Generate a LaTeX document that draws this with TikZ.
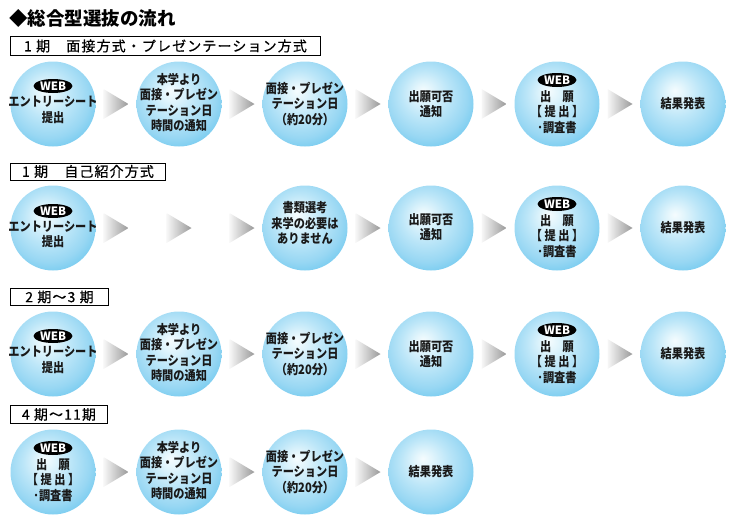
\documentclass[tikz,border=0pt]{standalone}
\usepackage{fontspec}
\newfontfamily\jpn{Noto Sans CJK JP}
\newfontfamily\jpl{Noto Sans CJK JP}[LetterSpace=8, FakeBold=0.6]
\newfontfamily\jpc{Noto Sans CJK JP}[FakeStretch=0.86]
\usetikzlibrary{shapes.geometric}
\definecolor{bA}{HTML}{F5FCFE}
\definecolor{bB}{HTML}{E2F5FC}
\definecolor{bC}{HTML}{BCE6F8}
\definecolor{bD}{HTML}{98D7F3}
\definecolor{bE}{HTML}{68C6EE}
\pgfdeclareradialshading{bubble}{\pgfpoint{-5bp}{8bp}}{color(0bp)=(bA); color(5bp)=(bB); color(14bp)=(bC); color(24bp)=(bD); color(33bp)=(bE); color(50bp)=(bE)}
\tikzset{
  bub/.style={circle, minimum size=85pt, inner sep=0pt, shade, shading=bubble},
  txt/.style={font=\jpc\bfseries\fontsize{13}{15.5}\selectfont, align=center, inner sep=0pt, text=black!90},
  web/.style={ellipse, fill=black, minimum width=39pt, minimum height=14pt, inner sep=0pt, text=white, font=\jpn\bfseries\fontsize{11.5}{11.5}\selectfont},
  lab/.style={draw=black, line width=0.9pt, fill=white, anchor=north west, inner sep=0pt, font=\jpl\fontsize{14}{14}\selectfont},
  chev/.pic={\shade[left color=black!3, right color=black!40] (-12.5,-15) -- (12.5,0) -- (-12.5,15) -- cycle;}
}
\begin{document}
\begin{tikzpicture}[x=1pt, y=-1pt]
\useasboundingbox (0,0) rectangle (741,525);
% title
\node[anchor=west, inner sep=0pt, font=\jpn\bfseries\fontsize{18.5}{18.5}\selectfont] (title) at (9,18) {◆総合型選抜の流れ};

% ---------- Row 1 ----------
\node[lab, minimum width=310pt, minimum height=19pt] (l1) at (10,36) {1 期　面接方式・プレゼンテーション方式};
\node[bub] (a1) at (53,104) {};
\node[web] (a1w) at (53,86) {WEB};
\node[txt] (a1t) at (53,110) {エントリーシート\\提出};
\pic (a1x) at (116,104) {chev};
\node[bub] (a2) at (179,104) {};
\node[txt] (a2t) at (179,102.5) {本学より\\面接・プレゼン\\テーション日\\時間の通知};
\pic (a2x) at (242,104) {chev};
\node[bub] (a3) at (305,104) {};
\node[txt] (a3t) at (305,103.5) {面接・プレゼン\\テーション日\\（約20分）};
\pic (a3x) at (368,104) {chev};
\node[bub] (a4) at (431,104) {};
\node[txt] (a4t) at (431,104) {出願可否\\通知};
\pic (a4x) at (494,104) {chev};
\node[bub] (a5) at (557,104) {};
\node[web] (a5w) at (557,80) {WEB};
\node[txt] (a5t) at (557,112) {出　願\\【 提 出 】\\･調査書};
\pic (a5x) at (620,104) {chev};
\node[bub] (a6) at (683,104) {};
\node[txt] (a6t) at (683,104) {結果発表};

% ---------- Row 2 ----------
\node[lab, minimum width=155pt, minimum height=17pt] (l2) at (10,162.5) {1 期　自己紹介方式};
\node[bub] (b1) at (53,228) {};
\node[web] (b1w) at (53,211) {WEB};
\node[txt] (b1t) at (53,234.5) {エントリーシート\\提出};
\pic (b1x) at (116,228) {chev};
\pic (b2x) at (179,228) {chev};
\pic (b3x) at (242,228) {chev};
\node[bub] (b3) at (305,228) {};
\node[txt] (b3t) at (305,223) {書類選考\\来学の必要は\\ありません};
\pic (b4x) at (368,228) {chev};
\node[bub] (b4) at (431,228) {};
\node[txt] (b4t) at (431,227) {出願可否\\通知};
\pic (b5x) at (494,228) {chev};
\node[bub] (b5) at (557,228) {};
\node[web] (b5w) at (557,204) {WEB};
\node[txt] (b5t) at (557,236) {出　願\\【 提 出 】\\･調査書};
\pic (b6x) at (620,228) {chev};
\node[bub] (b6) at (683,228) {};
\node[txt] (b6t) at (683,228) {結果発表};

% ---------- Row 3 ----------
\node[lab, minimum width=98pt, minimum height=17pt] (l3) at (10,288) {2 期～3 期};
\node[bub] (c1) at (53,354) {};
\node[web] (c1w) at (53,336) {WEB};
\node[txt] (c1t) at (53,360) {エントリーシート\\提出};
\pic (c1x) at (116,354) {chev};
\node[bub] (c2) at (179,354) {};
\node[txt] (c2t) at (179,352.5) {本学より\\面接・プレゼン\\テーション日\\時間の通知};
\pic (c2x) at (242,354) {chev};
\node[bub] (c3) at (305,354) {};
\node[txt] (c3t) at (305,353.5) {面接・プレゼン\\テーション日\\（約20分）};
\pic (c3x) at (368,354) {chev};
\node[bub] (c4) at (431,354) {};
\node[txt] (c4t) at (431,354) {出願可否\\通知};
\pic (c4x) at (494,354) {chev};
\node[bub] (c5) at (557,354) {};
\node[web] (c5w) at (557,330) {WEB};
\node[txt] (c5t) at (557,362) {出　願\\【 提 出 】\\･調査書};
\pic (c5x) at (620,354) {chev};
\node[bub] (c6) at (683,354) {};
\node[txt] (c6t) at (683,354) {結果発表};

% ---------- Row 4 ----------
\node[lab, minimum width=97pt, minimum height=18pt] (l4) at (10,405) {4 期～11期};
\node[bub] (d1) at (53,472) {};
\node[web] (d1w) at (53,448) {WEB};
\node[txt] (d1t) at (53,480) {出　願\\【 提 出 】\\･調査書};
\pic (d1x) at (116,472) {chev};
\node[bub] (d2) at (179,472) {};
\node[txt] (d2t) at (179,470.5) {本学より\\面接・プレゼン\\テーション日\\時間の通知};
\pic (d2x) at (242,472) {chev};
\node[bub] (d3) at (305,472) {};
\node[txt] (d3t) at (305,471.5) {面接・プレゼン\\テーション日\\（約20分）};
\pic (d3x) at (368,472) {chev};
\node[bub] (d4) at (431,472) {};
\node[txt] (d4t) at (431,472) {結果発表};
\end{tikzpicture}
\end{document}
